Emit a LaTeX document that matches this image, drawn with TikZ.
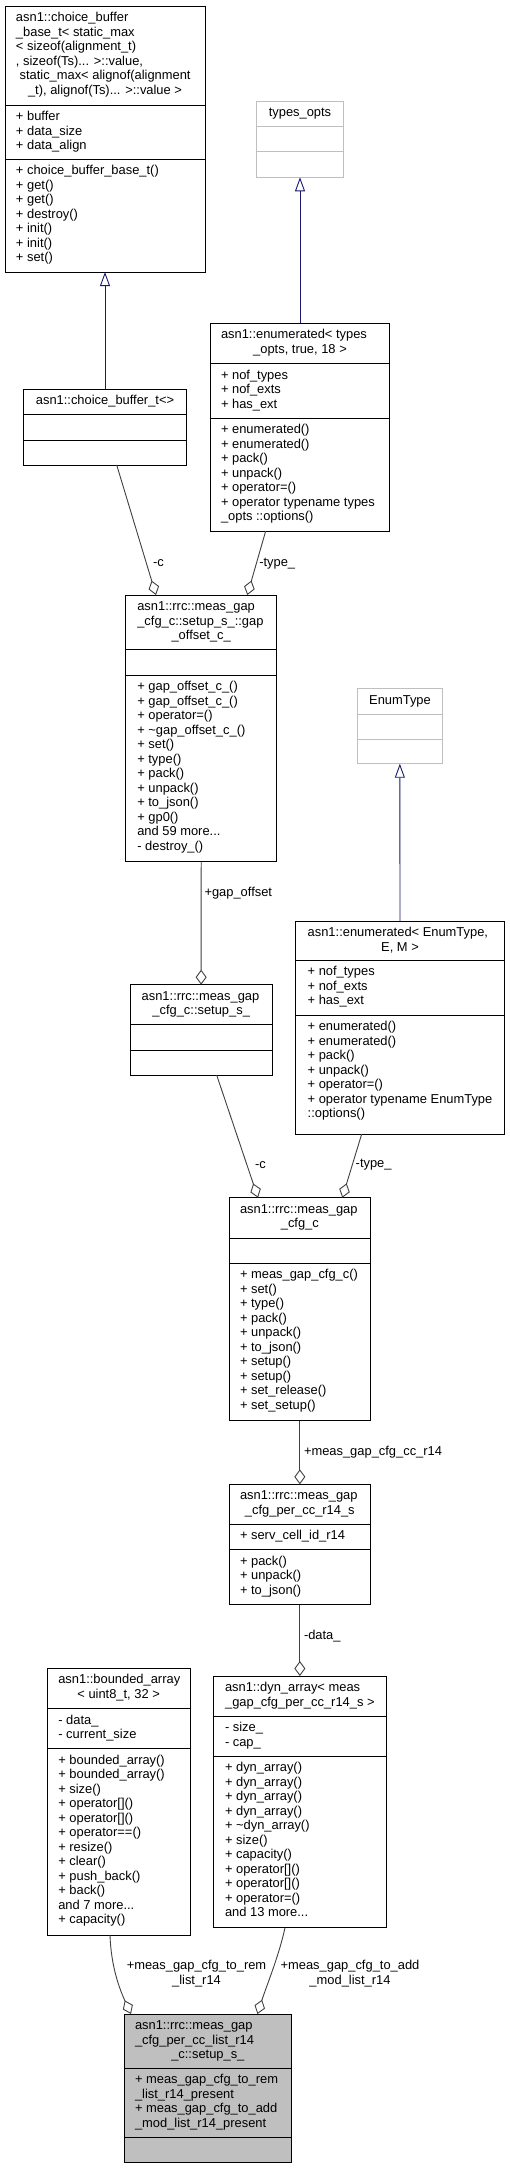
\documentclass[tikz,border=0pt]{standalone}
\usepackage{fontspec}
\setmainfont{Liberation Sans}
\usetikzlibrary{arrows.meta}
\definecolor{edgegray}{HTML}{404040}
\definecolor{inhblue}{HTML}{191970}
\definecolor{boxgray}{HTML}{BFBFBF}
\definecolor{lightborder}{HTML}{BFBFBF}
\newcounter{tl}
% class box: name, x1, y1, x2, y2, sep1, sep2, fill, border
\newcommand\cbox[9]{%
  \node[anchor=north west, inner sep=0pt, outer sep=0pt, draw=#9, fill=#8, line width=0.9pt,
        minimum width={#4pt-#2pt}, minimum height={#5pt-#3pt}] (#1) at (#2,#3) {};
  \draw[draw=#9, line width=0.9pt] (#2,#6) -- (#4,#6);
  \draw[draw=#9, line width=0.9pt] (#2,#7) -- (#4,#7);}
% left line: x, section top, index, text
\newcommand\wline[4]{\stepcounter{tl}\node[txt,anchor=base west] (t\arabic{tl}) at ({#1},{#2+15.5+14.5*#3}) {#4};}
% centred line
\newcommand\mline[4]{\stepcounter{tl}\node[txt,anchor=base] (t\arabic{tl}) at ({#1},{#2+15.5+14.5*#3}) {#4};}
\tikzset{
  txt/.style={font=\fontsize{12.9}{14.5}\selectfont, inner sep=0pt, outer sep=0pt, text=black},
  elab/.style={txt, anchor=west},
  agg/.style={draw=edgegray, line width=0.9pt, -{Diamond[open, length=15pt, width=11pt]}},
  inh/.style={draw=inhblue, line width=0.9pt, -{Triangle[open, length=14pt, width=10pt, fill=white]}}
}
\begin{document}
\begin{tikzpicture}[x=1pt, y=-1pt]
\fill[white] (0,0) rectangle (509,2169);
\useasboundingbox (0,0) rectangle (509,2169);

% A
\cbox{A}{5}{6}{205}{272}{105}{159}{white}{black}
\wline{16}{6}{0}{asn1::choice\_buffer}
\wline{16}{6}{1}{\_base\_t< static\_max}
\wline{16}{6}{2}{< sizeof(alignment\_t)}
\wline{16}{6}{3}{, sizeof(Ts)... >::value,}
\wline{19.6}{6}{4}{static\_max< alignof(alignment}
\mline{105}{6}{5}{\_t), alignof(Ts)... >::value >}
\wline{16}{105}{0}{+ buffer}
\wline{16}{105}{1}{+ data\_size}
\wline{16}{105}{2}{+ data\_align}
\wline{16}{159}{0}{+ choice\_buffer\_base\_t()}
\wline{16}{159}{1}{+ get()}
\wline{16}{159}{2}{+ get()}
\wline{16}{159}{3}{+ destroy()}
\wline{16}{159}{4}{+ init()}
\wline{16}{159}{5}{+ init()}
\wline{16}{159}{6}{+ set()}

% B
\cbox{B}{256.7}{101}{343.3}{177.3}{126.7}{151.7}{white}{lightborder}
\mline{300}{101}{0}{types\_opts}

% C
\cbox{C}{210.7}{323.3}{389.3}{531}{363.7}{418}{white}{black}
\wline{221}{323.3}{0}{asn1::enumerated< types}
\mline{300}{323.3}{1}{\_opts, true, 18 >}
\wline{221}{363.7}{0}{+ nof\_types}
\wline{221}{363.7}{1}{+ nof\_exts}
\wline{221}{363.7}{2}{+ has\_ext}
\wline{221}{418}{0}{+ enumerated()}
\wline{221}{418}{1}{+ enumerated()}
\wline{221}{418}{2}{+ pack()}
\wline{221}{418}{3}{+ unpack()}
\wline{221}{418}{4}{+ operator=()}
\wline{221}{418}{5}{+ operator typename types}
\wline{221}{418}{6}{\_opts ::options()}

% D
\cbox{D}{23.3}{389}{186.7}{465}{414.3}{440}{white}{black}
\mline{105}{389}{0}{asn1::choice\_buffer\_t<>}

% E
\cbox{E}{125.7}{595}{276.7}{861.7}{649.3}{675}{white}{black}
\wline{137.3}{595}{0}{asn1::rrc::meas\_gap}
\wline{137.3}{595}{1}{\_cfg\_c::setup\_s\_::gap}
\mline{201.2}{595}{2}{\_offset\_c\_}
\wline{137.3}{675}{0}{+ gap\_offset\_c\_()}
\wline{137.3}{675}{1}{+ gap\_offset\_c\_()}
\wline{137.3}{675}{2}{+ operator=()}
\wline{137.3}{675}{3}{+ \textasciitilde gap\_offset\_c\_()}
\wline{137.3}{675}{4}{+ set()}
\wline{137.3}{675}{5}{+ type()}
\wline{137.3}{675}{6}{+ pack()}
\wline{137.3}{675}{7}{+ unpack()}
\wline{137.3}{675}{8}{+ to\_json()}
\wline{137.3}{675}{9}{+ gp0()}
\wline{137.3}{675}{10}{and 59 more...}
\wline{137.3}{675}{11}{- destroy\_()}

% F
\cbox{F}{130.3}{984.7}{272}{1075}{1024.3}{1050}{white}{black}
\wline{141.7}{984.7}{0}{asn1::rrc::meas\_gap}
\mline{201.2}{984.7}{1}{\_cfg\_c::setup\_s\_}

% G
\cbox{G}{357.7}{688.7}{442}{763.7}{714.3}{739}{white}{lightborder}
\mline{400}{688.7}{0}{EnumType}

% H
\cbox{H}{295.7}{921}{504.3}{1134}{960}{1015}{white}{black}
\wline{307.7}{921}{0}{asn1::enumerated< EnumType,}
\mline{400}{921}{1}{E, M >}
\wline{307.7}{960}{0}{+ nof\_types}
\wline{307.7}{960}{1}{+ nof\_exts}
\wline{307.7}{960}{2}{+ has\_ext}
\wline{307.7}{1015}{0}{+ enumerated()}
\wline{307.7}{1015}{1}{+ enumerated()}
\wline{307.7}{1015}{2}{+ pack()}
\wline{307.7}{1015}{3}{+ unpack()}
\wline{307.7}{1015}{4}{+ operator=()}
\wline{307.7}{1015}{5}{+ operator typename EnumType}
\wline{307.7}{1015}{6}{::options()}

% I
\cbox{I}{229}{1197.7}{370.7}{1420.7}{1238}{1263.3}{white}{black}
\wline{240}{1197.7}{0}{asn1::rrc::meas\_gap}
\mline{299.85}{1197.7}{1}{\_cfg\_c}
\wline{240}{1263.3}{0}{+ meas\_gap\_cfg\_c()}
\wline{240}{1263.3}{1}{+ set()}
\wline{240}{1263.3}{2}{+ type()}
\wline{240}{1263.3}{3}{+ pack()}
\wline{240}{1263.3}{4}{+ unpack()}
\wline{240}{1263.3}{5}{+ to\_json()}
\wline{240}{1263.3}{6}{+ setup()}
\wline{240}{1263.3}{7}{+ setup()}
\wline{240}{1263.3}{8}{+ set\_release()}
\wline{240}{1263.3}{9}{+ set\_setup()}

% J
\cbox{J}{229}{1484.3}{370.7}{1604.7}{1524.3}{1549.7}{white}{black}
\wline{240}{1484.3}{0}{asn1::rrc::meas\_gap}
\mline{299.85}{1484.3}{1}{\_cfg\_per\_cc\_r14\_s}
\wline{240}{1524.3}{0}{+ serv\_cell\_id\_r14}
\wline{240}{1549.7}{0}{+ pack()}
\wline{240}{1549.7}{1}{+ unpack()}
\wline{240}{1549.7}{2}{+ to\_json()}

% K
\cbox{K}{213.7}{1676}{386}{1927.7}{1716}{1756}{white}{black}
\wline{225}{1676}{0}{asn1::dyn\_array< meas}
\mline{299.85}{1676}{1}{\_gap\_cfg\_per\_cc\_r14\_s >}
\wline{225}{1716}{0}{- size\_}
\wline{225}{1716}{1}{- cap\_}
\wline{225}{1756}{0}{+ dyn\_array()}
\wline{225}{1756}{1}{+ dyn\_array()}
\wline{225}{1756}{2}{+ dyn\_array()}
\wline{225}{1756}{3}{+ dyn\_array()}
\wline{225}{1756}{4}{+ \textasciitilde dyn\_array()}
\wline{225}{1756}{5}{+ size()}
\wline{225}{1756}{6}{+ capacity()}
\wline{225}{1756}{7}{+ operator[]()}
\wline{225}{1756}{8}{+ operator[]()}
\wline{225}{1756}{9}{+ operator=()}
\wline{225}{1756}{10}{and 13 more...}

% L
\cbox{L}{47.3}{1668.3}{190}{1935}{1708.7}{1748.7}{white}{black}
\wline{58.3}{1668.3}{0}{asn1::bounded\_array}
\mline{118.65}{1668.3}{1}{< uint8\_t, 32 >}
\wline{58.3}{1708.7}{0}{- data\_}
\wline{58.3}{1708.7}{1}{- current\_size}
\wline{58.3}{1748.7}{0}{+ bounded\_array()}
\wline{58.3}{1748.7}{1}{+ bounded\_array()}
\wline{58.3}{1748.7}{2}{+ size()}
\wline{58.3}{1748.7}{3}{+ operator[]()}
\wline{58.3}{1748.7}{4}{+ operator[]()}
\wline{58.3}{1748.7}{5}{+ operator==()}
\wline{58.3}{1748.7}{6}{+ resize()}
\wline{58.3}{1748.7}{7}{+ clear()}
\wline{58.3}{1748.7}{8}{+ push\_back()}
\wline{58.3}{1748.7}{9}{+ back()}
\wline{58.3}{1748.7}{10}{and 7 more...}
\wline{58.3}{1748.7}{11}{+ capacity()}

% M
\cbox{M}{124.7}{2014}{291}{2162.3}{2068.3}{2137.7}{boxgray}{black}
\wline{135}{2014}{0}{asn1::rrc::meas\_gap}
\wline{135}{2014}{1}{\_cfg\_per\_cc\_list\_r14}
\mline{207.85}{2014}{2}{\_c::setup\_s\_}
\wline{135}{2068.3}{0}{+ meas\_gap\_cfg\_to\_rem}
\wline{135}{2068.3}{1}{\_list\_r14\_present}
\wline{135}{2068.3}{2}{+ meas\_gap\_cfg\_to\_add}
\wline{135}{2068.3}{3}{\_mod\_list\_r14\_present}

% inheritance
\draw[inh] (D.north) -- (A.south);
\draw[inh] (C.north) -- (B.south);
\draw[inh] (H.north) -- (G.south);

% aggregation
\draw[agg] ([xshift=11.7pt]D.south) -- ([xshift=-45.2pt]E.north);
\node[elab] (lc1) at (153,563.3) {-c};
\draw[agg] ([xshift=-34.3pt]C.south) -- ([xshift=46.1pt]E.north);
\node[elab] (lt1) at (259.3,563.3) {-type\_};
\draw[agg] (E.south) -- (F.north);
\node[elab] (lgo) at (204.5,892.7) {+gap\_offset};
\draw[agg] ([xshift=15.5pt]F.south) -- ([xshift=-41.85pt]I.north);
\node[elab] (lc2) at (255,1165) {-c};
\draw[agg] ([xshift=-38.3pt]H.south) -- ([xshift=42.45pt]I.north);
\node[elab] (lt2) at (355.7,1165) {-type\_};
\draw[agg] (I.south) -- (J.north);
\node[elab] (lcc) at (304,1451.7) {+meas\_gap\_cfg\_cc\_r14};
\draw[agg] (J.south) -- (K.north);
\node[elab] (ld) at (304,1635.7) {-data\_};
\draw[agg] ([xshift=-8.65pt]L.south) .. controls +(1,32) and +(-11,-24) .. ([xshift=-76.85pt]M.north);
\node[txt, align=center] (lrem) at (196.5,1973.7) {+meas\_gap\_cfg\_to\_rem\\\_list\_r14};
\draw[agg] ([xshift=-14.85pt]K.south) .. controls +(-6,28) and +(9,-28) .. ([xshift=49.6pt]M.north);
\node[txt, align=center] (ladd) at (350,1973.7) {+meas\_gap\_cfg\_to\_add\\\_mod\_list\_r14};
\end{tikzpicture}
\end{document}
